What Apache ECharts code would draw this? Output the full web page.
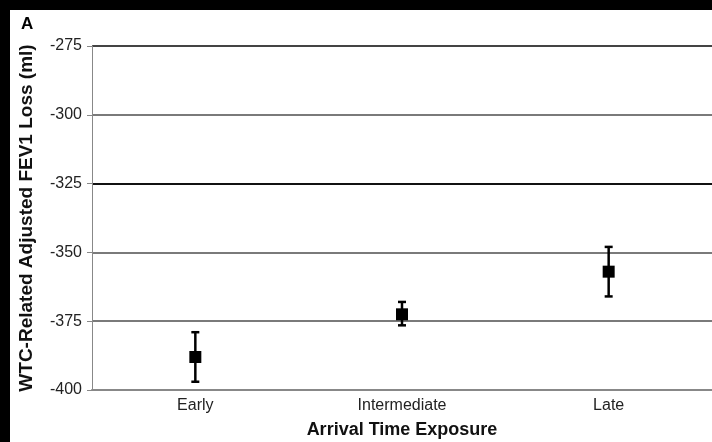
<!DOCTYPE html>
<html>
<head>
<meta charset="utf-8">
<script src="https://cdn.jsdelivr.net/npm/echarts@6/dist/echarts.min.js"></script>
<style>
html,body{margin:0;padding:0;background:#000;}
#chart{width:712px;height:442px;}
</style>
</head>
<body>
<div id="chart"></div>
<script>
var categories = ['Early', 'Intermediate', 'Late'];
var meanValues = [-388, -372.5, -357];
var upperValues = [-379, -368, -348];
var lowerValues = [-397, -376.5, -366];
var yTicks = [-400, -375, -350, -325, -300, -275];

var chart = echarts.init(document.getElementById('chart'), null, {renderer: 'canvas'});
var font = '"Liberation Sans", Arial, Helvetica, sans-serif';

var errData = categories.map(function (c, i) { return [i, lowerValues[i], upperValues[i]]; });
var meanData = categories.map(function (c, i) { return [i, meanValues[i]]; });

var option = {
  backgroundColor: '#000',
  animation: false,
  graphic: [
    {type: 'rect', left: 10, top: 10, shape: {width: 702, height: 432}, style: {fill: '#fff'}, z: -10},
    {type: 'text', left: 21, top: 16, style: {text: 'A', font: 'bold 17px ' + font, fill: '#000'}}
  ],
  grid: {left: 92, right: 0, top: 46, bottom: 52, outerBoundsMode: 'none', containLabel: false},
  xAxis: {
    type: 'category',
    data: categories,
    boundaryGap: true,
    name: 'Arrival Time Exposure',
    nameLocation: 'middle',
    nameGap: 31,
    nameTextStyle: {fontFamily: font, fontWeight: 'bold', fontSize: 18, color: '#111'},
    axisLine: {lineStyle: {color: '#888', width: 2}},
    axisTick: {show: false},
    axisLabel: {fontFamily: font, fontSize: 16, color: '#222', margin: 8},
    splitLine: {show: false}
  },
  yAxis: {
    type: 'value',
    min: yTicks[0],
    max: yTicks[yTicks.length - 1],
    interval: 25,
    name: 'WTC-Related Adjusted FEV1 Loss (ml)',
    nameLocation: 'middle',
    nameGap: 56,
    nameTextStyle: {fontFamily: font, fontWeight: 'bold', fontSize: 19, color: '#111'},
    axisLine: {show: true, lineStyle: {color: '#888', width: 1}},
    axisTick: {show: true, length: 5, lineStyle: {color: '#888'}},
    axisLabel: {fontFamily: font, fontSize: 16, color: '#222', margin: 10},
    splitLine: {show: true, lineStyle: {color: ['#888', '#7a7a7a', '#7a7a7a', '#111', '#7a7a7a', '#444'], width: 2}}
  },
  series: [
    {
      type: 'custom',
      data: errData,
      z: 3,
      renderItem: function (params, api) {
        var x = api.value(0);
        var lo = api.coord([x, api.value(1)]);
        var hi = api.coord([x, api.value(2)]);
        var hw = 4;
        var st = {stroke: '#000', lineWidth: 2.5};
        return {
          type: 'group',
          children: [
            {type: 'line', shape: {x1: lo[0], y1: lo[1], x2: hi[0], y2: hi[1]}, style: st},
            {type: 'line', shape: {x1: lo[0] - hw, y1: lo[1], x2: lo[0] + hw, y2: lo[1]}, style: st},
            {type: 'line', shape: {x1: hi[0] - hw, y1: hi[1], x2: hi[0] + hw, y2: hi[1]}, style: st}
          ]
        };
      }
    },
    {
      type: 'scatter',
      data: meanData,
      symbol: 'rect',
      symbolSize: 12,
      z: 4,
      itemStyle: {color: '#000', opacity: 1}
    }
  ]
};
chart.setOption(option);
</script>
</body>
</html>
